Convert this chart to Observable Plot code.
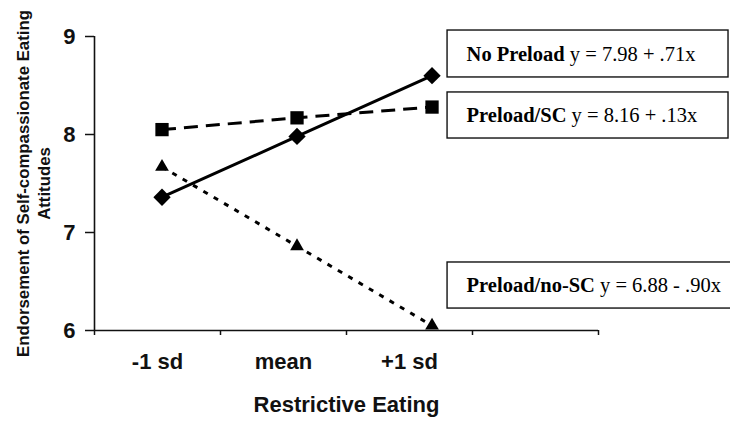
<!DOCTYPE html>
<html><head><meta charset="utf-8">
<script src="https://cdn.jsdelivr.net/npm/d3@7"></script>
<script src="https://cdn.jsdelivr.net/npm/@observablehq/plot@0.6"></script>
<style>html,body{margin:0;padding:0;background:#fff;overflow:hidden} svg{display:block}</style>
</head><body><div id="chart"></div>
<script>
// ---- data ----
const categories = ["-1 sd", "mean", "+1 sd"];
const sdLevels = [-1, 0, 1];
const groups = ["No Preload", "Preload/SC", "Preload/no-SC"];
const noPreload = [7.36, 7.98, 8.60];
const preloadSC = [8.05, 8.17, 8.28];
const preloadNoSC = [7.67, 6.86, 6.05];
const equations = ["y = 7.98 + .71x", "y = 8.16 + .13x", "y = 6.88 - .90x"];
const yTicks = [6, 7, 8, 9];
const yTitle = "Endorsement of Self-compassionate Eating\nAttitudes";
const xTitle = "Restrictive Eating";

// ---- layout (not data) ----
const xDomain = [-1.5, 2.233];
const yDomain = [6, 9];
const slots = 4;
const slotW = (xDomain[1] - xDomain[0]) / slots;
const slotEdges = d3.range(slots + 1).map(i => xDomain[0] + i * slotW);
const slotMids = categories.map((_, i) => xDomain[0] + (i + 0.5) * slotW);
const boxLayout = [
  {x1: 1.115, x2: 3.196, y1: 9.061, y2: 8.582},
  {x1: 1.115, x2: 3.196, y1: 8.429, y2: 7.959},
  {x1: 1.115, x2: 3.26,  y1: 6.694, y2: 6.224}
];
const textX = 1.256;
const styles = [
  {symbol: "diamond2", r: 7.8, dash: null},
  {symbol: "square", r: 7.5, dash: "14,8"},
  {symbol: "triangle", r: 5.1, dash: "5,7"}
];

const seriesValues = [noPreload, preloadSC, preloadNoSC];
const rows = groups.flatMap((g, gi) => sdLevels.map((sd, i) => ({group: g, sd, value: seriesValues[gi][i]})));
const boxes = groups.map((g, i) => ({name: g, eq: equations[i], ...boxLayout[i]}));

const marks = [];
marks.push(Plot.ruleX([xDomain[0]], {y1: yDomain[0], y2: yDomain[1], stroke: "#111", strokeWidth: 1.6}));
marks.push(Plot.ruleY([yDomain[0]], {x1: xDomain[0], x2: xDomain[1], stroke: "#111", strokeWidth: 1.6}));
marks.push(Plot.axisY(yTicks, {tickSize: 9, tickPadding: 10, tickFormat: d => String(d), fontSize: 22, fontWeight: "bold", label: null, stroke: "#111", strokeWidth: 1.5, fill: "#111"}));
marks.push(Plot.axisX(slotEdges, {tickSize: 5, tickFormat: () => "", label: null, stroke: "#111", strokeWidth: 1.5}));
marks.push(Plot.axisX(slotMids, {tickSize: 0, tickPadding: 23, tickFormat: d => categories[slotMids.indexOf(d)], fontSize: 22, fontWeight: "bold", label: null, fill: "#111"}));
marks.push(Plot.text([xTitle], {frameAnchor: "bottom", dy: 81, lineAnchor: "bottom", fontSize: 22, fontWeight: "bold", fill: "#111"}));
marks.push(Plot.text([yTitle], {frameAnchor: "left", rotate: -90, dx: -61.5, textAnchor: "middle", lineAnchor: "middle", fontSize: 16.8, fontWeight: "bold", lineHeight: 1.27, fill: "#111"}));

groups.forEach((g, gi) => {
  const st = styles[gi];
  const data = rows.filter(d => d.group === g);
  marks.push(Plot.line(data, {x: "sd", y: "value", stroke: "#000", strokeWidth: 3, strokeDasharray: st.dash, strokeLinecap: "butt"}));
});
groups.forEach((g, gi) => {
  const st = styles[gi];
  const data = rows.filter(d => d.group === g);
  marks.push(Plot.dot(data, {x: "sd", y: "value", symbol: st.symbol, r: st.r, fill: "#000", stroke: "none"}));
});

marks.push(Plot.rect(boxes, {x1: "x1", x2: "x2", y1: "y1", y2: "y2", fill: "#fff", stroke: "#111", strokeWidth: 1.4}));
marks.push(Plot.text(boxes, {x: () => textX, y: d => (d.y1 + d.y2) / 2, text: d => d.name + " " + d.eq, textAnchor: "start", fontFamily: "'Liberation Serif', 'Times New Roman', serif", fontSize: 20.5, fill: "#000"}));

const chart = Plot.plot({
  width: 730,
  height: 423,
  marginLeft: 94,
  marginRight: 132,
  marginTop: 36,
  marginBottom: 93,
  x: {domain: xDomain},
  y: {domain: yDomain},
  style: {fontFamily: "'Liberation Sans', Arial, sans-serif", background: "#fff", color: "#111", overflow: "visible"},
  marks
});

// mixed bold / regular in box labels
chart.querySelectorAll("text").forEach(t => {
  const s = t.textContent;
  const g = groups.find(n => s.startsWith(n + " y"));
  if (!g || t.querySelector("tspan")) return;
  const rest = s.slice(g.length);
  t.textContent = "";
  const ns = "http://www.w3.org/2000/svg";
  const a = document.createElementNS(ns, "tspan");
  a.setAttribute("font-weight", "bold");
  a.textContent = g;
  const b = document.createElementNS(ns, "tspan");
  b.textContent = rest;
  t.appendChild(a); t.appendChild(b);
});

document.getElementById("chart").appendChild(chart);
</script>
</body></html>
